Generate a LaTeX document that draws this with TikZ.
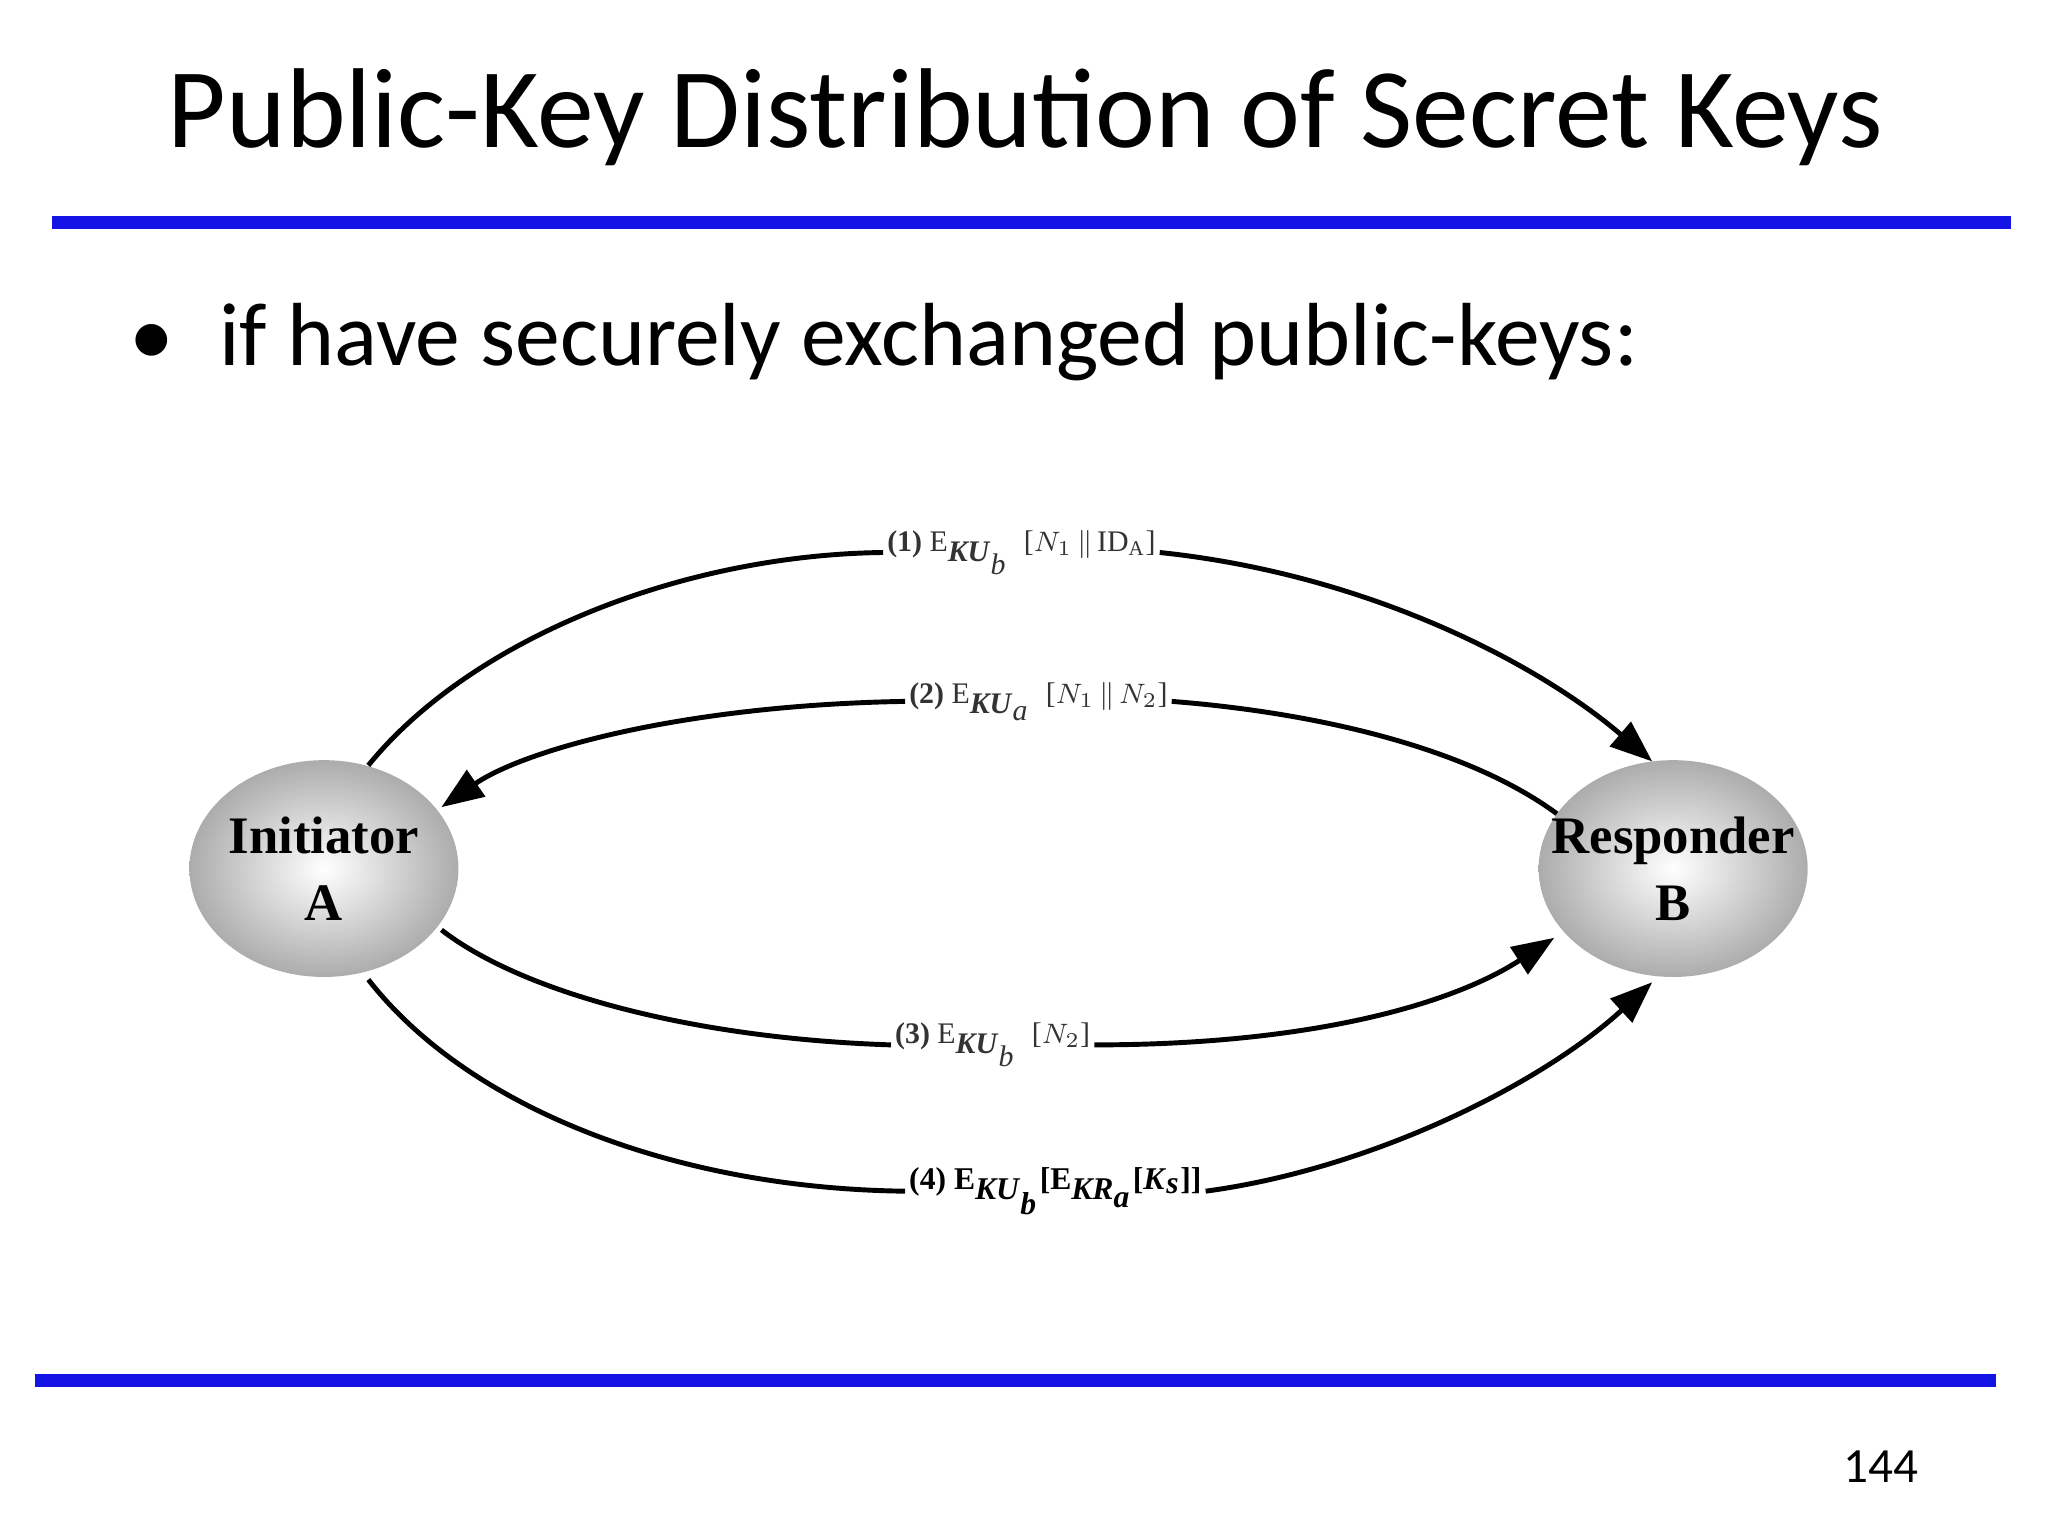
\documentclass[tikz,border=0pt]{standalone}
\usepackage{fontspec}
\setmainfont{Liberation Serif}
\newfontfamily\carl{Carlito}
\usetikzlibrary{arrows.meta,shapes.geometric}
\begin{document}
\begin{tikzpicture}[x=0.01306cm,y=-0.01306cm,
  blueline/.style={line width=10*0.01306cm, draw={rgb,255:red,20;green,20;blue,230}},
  party/.style={ellipse, minimum width=206*0.01306cm, minimum height=166*0.01306cm, inner sep=0pt,
     inner color=white, outer color=gray!65, font=\bfseries\fontsize{15}{17}\selectfont, align=center},
  msg/.style={font=\fontsize{8.5}{10}\selectfont, text=black!80, inner sep=1pt},
  arc/.style={line width=1.4pt},
  tip/.style={-{Triangle[length=12pt,width=9pt]}}]
\useasboundingbox (0,0) rectangle (1568,1176);
\node[font=\carl\fontsize{32.3}{36}\selectfont] (title) at (785,90) {Public-Key Distribution of Secret Keys};
\coordinate (t1) at (40,170); \coordinate (t2) at (1540,170);
\draw[blueline] (t1) -- (t2);
\node[font=\carl\fontsize{25.5}{30}\selectfont, anchor=west] (bul) at (90,262) {•\hspace{0.5em}if have securely exchanged public-keys:};
\coordinate (b1) at (27,1057); \coordinate (b2) at (1528,1057);
\draw[blueline] (b1) -- (b2);
\node[font=\carl\fontsize{14}{16}\selectfont] (pg) at (1440,1123) {144};

\node[party] (A) at (248,665) {\makebox[0pt]{Initiator}\\[2pt]A};
\node[party] (B) at (1281,665) {\makebox[0pt]{Responder}\\[2pt]B};

\node[msg] (l1) at (782,423) {\textbf{(1)} E$_{\textbf{\textit{KU}}_{\textit{b}}}$\ \ [$N_1$\,$\|$\,ID$_{\mathrm A}$]};
\node[msg] (l2) at (795,537) {\textbf{(2)} E$_{\textbf{\textit{KU}}_{\textit{a}}}$\ \ [$N_1$\,$\|$\,$N_2$]};
\node[msg] (l3) at (760,800) {\textbf{(3)} E$_{\textbf{\textit{KU}}_{\textit{b}}}$\ \ [$N_2$]};
\node[msg, font=\bfseries\fontsize{9}{10}\selectfont, text=black] (l4) at (808,912) {(4) E$_{\textbf{\textit{KU}}_{\textit{b}}}$[E$_{\textbf{\textit{KR}}_{\textit{a}}}$[\textbf{\textit{K}}$_{\textbf{\textit{s}}}$]]};

\coordinate (s1) at (282,586); \coordinate (e1) at (1265,583);
\draw[arc] (s1) .. controls (360,490) and (520,425) .. (l1.west);
\draw[arc,tip] (l1.east) .. controls (1050,440) and (1180,510) .. (e1);
\coordinate (s2) at (1192,623); \coordinate (e2) at (338,618);
\draw[arc] (s2) .. controls (1120,570) and (1000,545) .. (l2.east);
\draw[arc,tip] (l2.west) .. controls (520,540) and (400,575) .. (e2);
\coordinate (s3) at (338,712); \coordinate (e3) at (1190,718);
\draw[arc] (s3) .. controls (400,760) and (530,795) .. (l3.west);
\draw[arc,tip] (l3.east) .. controls (1000,800) and (1110,770) .. (e3);
\coordinate (s4) at (282,750); \coordinate (e4) at (1265,752);
\draw[arc] (s4) .. controls (360,850) and (520,910) .. (l4.west);
\draw[arc,tip] (l4.east) .. controls (1050,895) and (1180,830) .. (e4);
\end{tikzpicture}
\end{document}
